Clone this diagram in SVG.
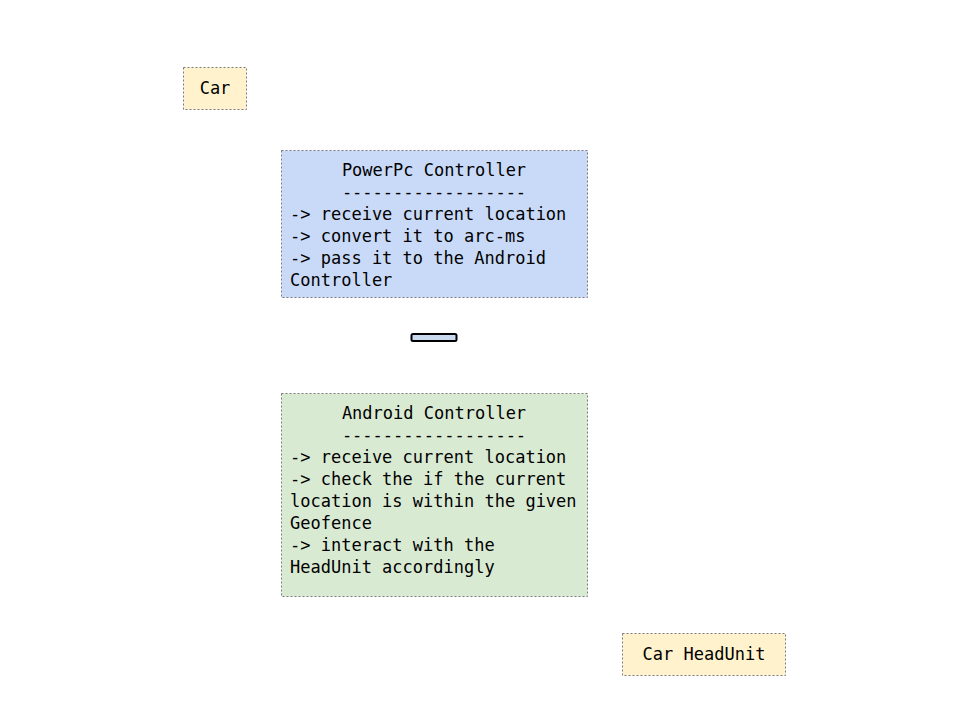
<svg xmlns="http://www.w3.org/2000/svg" width="960" height="720" viewBox="0 0 960 720">
<style>
.box{stroke:#7a7a7a;stroke-width:1;stroke-dasharray:2 2}
.y{fill:#fff2cc}
.b{fill:#c9daf8}
.g{fill:#d9ead3}
text{font-family:"DejaVu Sans Mono","Liberation Mono",monospace;font-size:17px;fill:#000}
.c{text-anchor:middle}
</style>
<rect width="960" height="720" fill="#ffffff"/>
<g id="car">
<rect class="box y" x="183.5" y="67.5" width="63" height="42"/>
<text class="c" x="215" y="94">Car</text>
</g>
<g id="powerpc">
<rect class="box b" x="281.5" y="150.5" width="306" height="147"/>
<text class="c" x="434" y="176">PowerPc Controller</text>
<text class="c" x="434" y="198">------------------</text>
<text x="290" y="220">-&gt; receive current location</text>
<text x="290" y="242">-&gt; convert it to arc-ms</text>
<text x="290" y="264">-&gt; pass it to the Android</text>
<text x="290" y="286">Controller</text>
</g>
<g id="connectors">
<rect x="411.5" y="334" width="45" height="7" rx="1.5" fill="#c9daf0" stroke="#000" stroke-width="2"/>
</g>
<g id="android">
<rect class="box g" x="281.5" y="393.5" width="306" height="203"/>
<text class="c" x="434" y="419">Android Controller</text>
<text class="c" x="434" y="441">------------------</text>
<text x="290" y="463">-&gt; receive current location</text>
<text x="290" y="485">-&gt; check the if the current</text>
<text x="290" y="507">location is within the given</text>
<text x="290" y="529">Geofence</text>
<text x="290" y="551">-&gt; interact with the</text>
<text x="290" y="573">HeadUnit accordingly</text>
</g>
<g id="headunit">
<rect class="box y" x="622.5" y="633.5" width="163" height="42"/>
<text class="c" x="704" y="660">Car HeadUnit</text>
</g>
</svg>
